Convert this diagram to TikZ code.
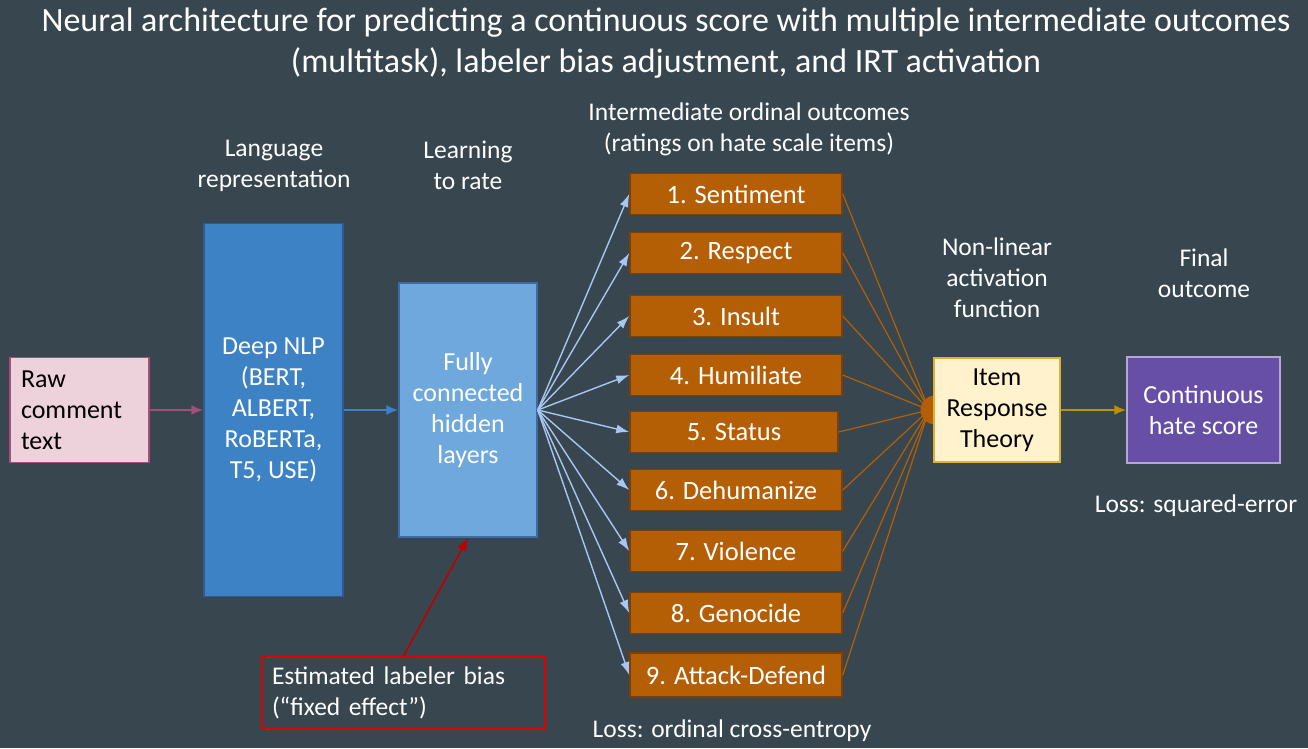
\documentclass[tikz,border=0pt]{standalone}
\usepackage{fontspec}
\setmainfont{Carlito}
\usetikzlibrary{arrows.meta}
\definecolor{bg}{HTML}{37464F}
\definecolor{rawF}{HTML}{EDD2DC}
\definecolor{rawD}{HTML}{A64D79}
\definecolor{nlpF}{HTML}{3D82C4}
\definecolor{nlpD}{HTML}{2F5A94}
\definecolor{fcF}{HTML}{6FA8DC}
\definecolor{fcD}{HTML}{3D6BA8}
\definecolor{itF}{HTML}{B45F06}
\definecolor{itD}{HTML}{7A4005}
\definecolor{fanC}{HTML}{A9C5F2}
\definecolor{irtF}{HTML}{FFF2CC}
\definecolor{irtD}{HTML}{DDB136}
\definecolor{goldA}{HTML}{BF9000}
\definecolor{contF}{HTML}{674EA7}
\definecolor{contD}{HTML}{B4A7D6}
\definecolor{redB}{HTML}{E00000}
\definecolor{redA}{HTML}{C00000}
\tikzset{
  lbl/.style={text=white, font=\fontsize{25.5}{31}\selectfont, align=center, inner sep=0pt},
  boxtxt/.style={font=\fontsize{26}{31}\selectfont, align=center, inner sep=0pt, line width=1.5pt},
  item/.style={fill=itF, draw=itD, line width=1.5pt, text=white, font=\fontsize{26.5}{30}\selectfont, minimum width=212pt, minimum height=41pt, inner sep=0pt},
  fan/.style={draw=fanC, line width=1.4pt, -{Latex[length=13pt,width=9pt]}},
  oline/.style={draw=itF, line width=1.2pt},
}
\begin{document}
\begin{tikzpicture}[x=1pt,y=-1pt]
\useasboundingbox (0,0) rectangle (1308,748);
\fill[bg] (0,0) rectangle (1308,748);

% title
\node[lbl, font=\fontsize{34}{41}\selectfont] (title) at (666,43) {Neural architecture for predicting a continuous score with multiple intermediate outcomes\\(multitask), labeler bias adjustment, and IRT activation};

% column labels
\node[lbl] (lang) at (274,166) {Language\\representation};
\node[lbl] (learn) at (468,165) {Learning\\to rate};
\node[lbl] (inter) at (749,129) {Intermediate ordinal outcomes\\(ratings on hate scale items)};
\node[lbl] (nonlin) at (997,278) {Non-linear\\activation\\function};
\node[lbl] (final) at (1204,273) {Final\\outcome};
\node[lbl] (lossSq) at (1196,506) {Loss: squared-error};
\node[lbl] (lossOrd) at (732,731) {Loss: ordinal cross-entropy};

% main boxes
\node[boxtxt, fill=rawF, draw=rawD, text=black, align=left, minimum width=139pt, minimum height=105pt, text width=117pt] (raw) at (79.5,410) {Raw\\comment\\text};
\node[boxtxt, fill=nlpF, draw=nlpD, text=white, minimum width=139pt, minimum height=373pt] (nlp) at (273.5,410) {Deep NLP\\(BERT,\\ALBERT,\\RoBERTa,\\T5, USE)};
\node[boxtxt, fill=fcF, draw=fcD, text=white, minimum width=138pt, minimum height=254pt] (fc) at (468,410) {Fully\\connected\\hidden\\layers};

\draw[draw=rawD, line width=1.8pt, -{Latex[length=12pt,width=10pt]}] (raw) -- (nlp);
\draw[draw=nlpF, line width=1.8pt, -{Latex[length=12pt,width=10pt]}] (nlp) -- (fc);

% items
\node[item] (i1) at (736,194) {1. Sentiment};
\node[item] (i2) at (736,253) {2. Respect};
\node[item] (i3) at (736,316) {3. Insult};
\node[item] (i4) at (736,375) {4. Humiliate};
\node[item, minimum width=208pt] (i5) at (734,432) {5. Status};
\node[item] (i6) at (736,490) {6. Dehumanize};
\node[item] (i7) at (736,551) {7. Violence};
\node[item] (i8) at (736,613) {8. Genocide};
\node[item, minimum height=44pt] (i9) at (736,675) {9. Attack-Defend};

\foreach \k in {1,...,9}{\draw[fan] (fc.east) -- (i\k.west);}

% convergence to IRT
\coordinate (hub) at (929,410);
\foreach \k in {1,...,9}{\draw[oline] (i\k.east) -- (hub);}
\fill[itF] (935,410) circle (14.5pt);

\node[boxtxt, fill=irtF, draw=irtD, text=black, minimum width=126pt, minimum height=104pt] (irt) at (997,410) {Item\\Response\\Theory};
\node[boxtxt, fill=contF, draw=contD, text=white, minimum width=153pt, minimum height=106pt] (cont) at (1203.5,410) {Continuous\\hate score};
\draw[draw=goldA, line width=1.8pt, -{Latex[length=12pt,width=10pt]}] (irt) -- (cont);

% bias
\node[draw=redB, line width=1.8pt, text=white, font=\fontsize{25.5}{31}\selectfont, align=left, minimum width=283pt, minimum height=72pt, text width=263pt, inner sep=0pt] (bias) at (403.5,693) {Estimated labeler bias\\(“fixed effect”)};
\draw[draw=redA, line width=1.6pt, -{Latex[length=13pt,width=10pt]}] (bias.north) -- (fc.south);
\end{tikzpicture}
\end{document}
